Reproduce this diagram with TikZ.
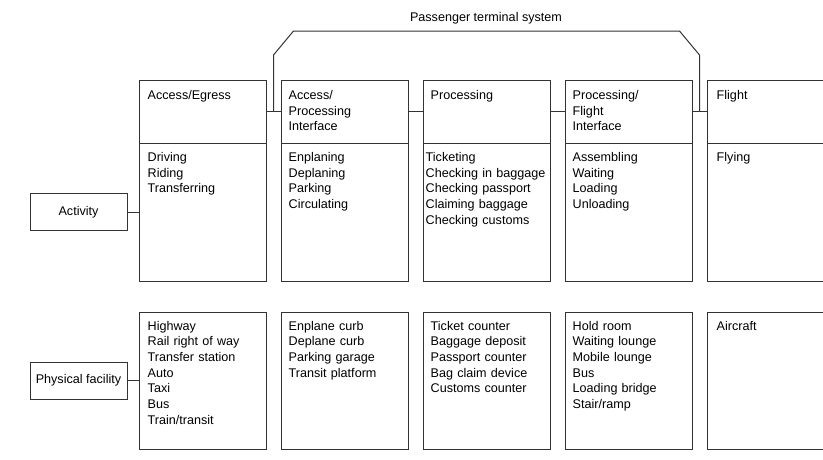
\documentclass[tikz,border=0pt]{standalone}
\usepackage{fontspec}
\setmainfont{Liberation Sans}
\begin{document}
\begin{tikzpicture}[x=1pt,y=-1pt,
  box/.style={draw=black!80, line width=1pt, minimum width=127pt, inner sep=0pt},
  txt/.style={anchor=base west, text width=120pt, align=left, inner sep=0pt, font=\fontsize{12.6}{15.7}\selectfont},
  tag/.style={draw=black!80, line width=1pt, minimum width=97pt, minimum height=37pt, inner sep=0pt, font=\fontsize{12.6}{15.7}\selectfont},
  link/.style={draw=black!80, line width=1pt}]
\useasboundingbox (0,0) rectangle (823,459);
\def \w {127}
\def \gap {142}
\foreach \i in {1,...,5}
{
  \node[box, minimum height=63pt] (head\i) at ({139+\gap*(\i-1)+\w/2}, 111.5) {};
  \node[box, minimum height=138pt] (act\i) at ({139+\gap*(\i-1)+\w/2}, 212) {};
  \node[box, minimum height=137pt] (fac\i) at ({139+\gap*(\i-1)+\w/2}, 380.5) {};
}
% column headers
\node[txt] (headtxt1) at ([shift={(9,20)}]head1.north west) {Access/Egress};
\node[txt] (headtxt2) at ([shift={(8,20)}]head2.north west) {Access/\\Processing\\Interface};
\node[txt] (headtxt3) at ([shift={(8,20)}]head3.north west) {Processing};
\node[txt] (headtxt4) at ([shift={(8,20)}]head4.north west) {Processing/\\Flight\\Interface};
\node[txt] (headtxt5) at ([shift={(10,20)}]head5.north west) {Flight};
% activities
\node[txt] (acttxt1) at ([shift={(9,19)}]act1.north west) {Driving\\Riding\\Transferring};
\node[txt] (acttxt2) at ([shift={(8,19)}]act2.north west) {Enplaning\\Deplaning\\Parking\\Circulating};
\node[txt] (acttxt3) at ([shift={(3,19)}]act3.north west) {Ticketing\\Checking in baggage\\Checking passport\\Claiming baggage\\Checking customs};
\node[txt] (acttxt4) at ([shift={(8,19)}]act4.north west) {Assembling\\Waiting\\Loading\\Unloading};
\node[txt] (acttxt5) at ([shift={(10,19)}]act5.north west) {Flying};
% facilities
\node[txt] (factxt1) at ([shift={(9,18.5)}]fac1.north west) {Highway\\Rail right of way\\Transfer station\\Auto\\Taxi\\Bus\\Train/transit};
\node[txt] (factxt2) at ([shift={(8,18.5)}]fac2.north west) {Enplane curb\\Deplane curb\\Parking garage\\Transit platform};
\node[txt] (factxt3) at ([shift={(8,18.5)}]fac3.north west) {Ticket counter\\Baggage deposit\\Passport counter\\Bag claim device\\Customs counter};
\node[txt] (factxt4) at ([shift={(8,18.5)}]fac4.north west) {Hold room\\Waiting lounge\\Mobile lounge\\Bus\\Loading bridge\\Stair/ramp};
\node[txt] (factxt5) at ([shift={(10,18.5)}]fac5.north west) {Aircraft};
% row tags
\node[tag] (activity) at (78.5, 212) {Activity};
\node[tag] (facility) at (78.5, 380.5) {Physical facility};
\draw[link] (activity.east) -- (act1.west);
\draw[link] (facility.east) -- (fac1.west);
\foreach \a/\b in {1/2,2/3,3/4,4/5}
  \draw[link] (head\a.east) -- (head\b.west);
% system bracket
\path (head1.east) -- coordinate[midway] (left) (head2.west);
\path (head4.east) -- coordinate[midway] (right) (head5.west);
\draw[link] (left) -- (left |- 0,55) -- ([xshift=20pt]left |- 0,31)
  -- ([xshift=-20pt]right |- 0,31) -- (right |- 0,55) -- (right);
\node[font=\fontsize{12.6}{15.7}\selectfont, inner sep=0pt] (system) at (486, 18) {Passenger terminal system};
\end{tikzpicture}
\end{document}
